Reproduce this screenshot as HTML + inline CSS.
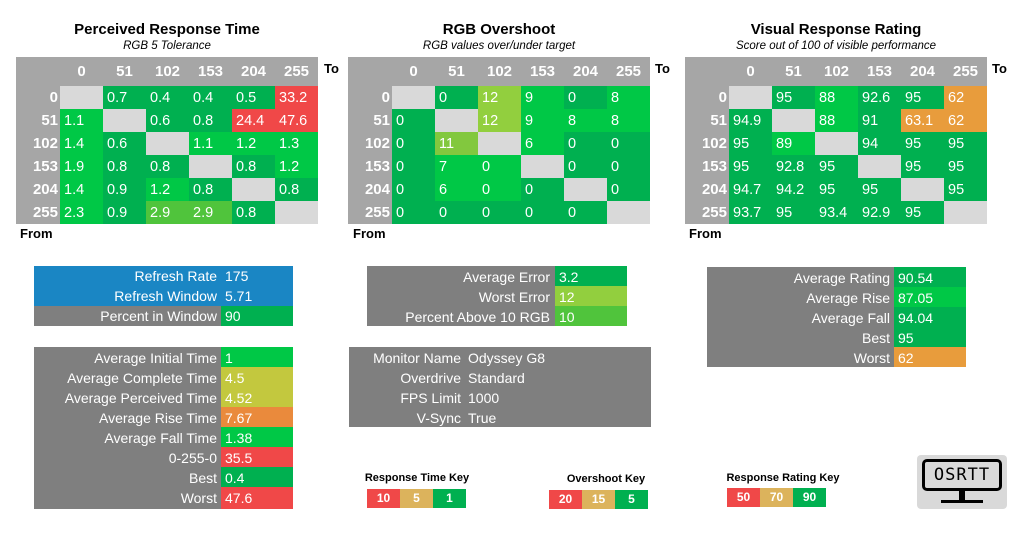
<!DOCTYPE html>
<html><head><meta charset="utf-8"><style>
body{margin:0;width:1024px;height:550px;background:#fff;position:relative;overflow:hidden;font-family:"Liberation Sans",Calibri,sans-serif}
.a{position:absolute}
table{border-collapse:collapse;position:absolute;table-layout:fixed}
td{padding:0;color:#fff;font-size:14.5px;height:23px;width:43px;white-space:nowrap;overflow:hidden}
td.h{background:#a6a6a6;font-weight:bold;text-align:center;font-size:15px;height:29px}
td.rh{background:#a6a6a6;font-weight:bold;text-align:right;padding-right:2px;width:42px;font-size:15px}
td.c{padding-left:4px;width:39px}
.g{background:#00b050}.b{background:#00c846}.r{background:#f04848}.o{background:#e89c3c}.y{background:#50c43c}.l{background:#92cf3e}.l2{background:#82c83e}.d{background:#d9d9d9}
.t{font-weight:bold;font-size:15px;text-align:center;width:300px}
.s{font-style:italic;font-size:11.5px;text-align:center;width:300px}
.lb{font-weight:bold;font-size:13px}
.box div{position:absolute;color:#fff;font-size:14px;line-height:20px;height:20px}
.k{position:absolute;font-size:11px;font-weight:bold;text-align:center}
.kb div{float:left;width:33px;height:19px;color:#fff;font-size:12px;font-weight:bold;line-height:19px;text-align:center}
</style></head><body>

<div class="a t" style="left:17px;top:21px">Perceived Response Time</div>
<div class="a s" style="left:17px;top:40px">RGB 5 Tolerance</div>
<div class="a t" style="left:349px;top:21px">RGB Overshoot</div>
<div class="a s" style="left:349px;top:40px">RGB values over/under target</div>
<div class="a t" style="left:686px;top:21px">Visual Response Rating</div>
<div class="a s" style="left:686px;top:40px">Score out of 100 of visible performance</div>

<div class="a lb" style="left:324px;top:61px">To</div>
<div class="a lb" style="left:20px;top:226px">From</div>
<div class="a lb" style="left:655px;top:61px">To</div>
<div class="a lb" style="left:353px;top:226px">From</div>
<div class="a lb" style="left:992px;top:61px">To</div>
<div class="a lb" style="left:689px;top:226px">From</div>

<table style="left:16px;top:57px">
<tr><td class="h" style="width:44px"></td><td class="h">0</td><td class="h">51</td><td class="h">102</td><td class="h">153</td><td class="h">204</td><td class="h">255</td></tr>
<tr><td class="rh">0</td><td class="c d"></td><td class="c g">0.7</td><td class="c g">0.4</td><td class="c g">0.4</td><td class="c g">0.5</td><td class="c r">33.2</td></tr>
<tr><td class="rh">51</td><td class="c b">1.1</td><td class="c d"></td><td class="c g">0.6</td><td class="c g">0.8</td><td class="c r">24.4</td><td class="c r">47.6</td></tr>
<tr><td class="rh">102</td><td class="c b">1.4</td><td class="c g">0.6</td><td class="c d"></td><td class="c b">1.1</td><td class="c b">1.2</td><td class="c b">1.3</td></tr>
<tr><td class="rh">153</td><td class="c b">1.9</td><td class="c g">0.8</td><td class="c g">0.8</td><td class="c d"></td><td class="c g">0.8</td><td class="c b">1.2</td></tr>
<tr><td class="rh">204</td><td class="c b">1.4</td><td class="c g">0.9</td><td class="c b">1.2</td><td class="c g">0.8</td><td class="c d"></td><td class="c g">0.8</td></tr>
<tr><td class="rh">255</td><td class="c b">2.3</td><td class="c g">0.9</td><td class="c y">2.9</td><td class="c y">2.9</td><td class="c g">0.8</td><td class="c d"></td></tr>
</table>

<table style="left:348px;top:57px">
<tr><td class="h" style="width:44px"></td><td class="h">0</td><td class="h">51</td><td class="h">102</td><td class="h">153</td><td class="h">204</td><td class="h">255</td></tr>
<tr><td class="rh">0</td><td class="c d"></td><td class="c g">0</td><td class="c l">12</td><td class="c b">9</td><td class="c g">0</td><td class="c b">8</td></tr>
<tr><td class="rh">51</td><td class="c g">0</td><td class="c d"></td><td class="c l">12</td><td class="c b">9</td><td class="c b">8</td><td class="c b">8</td></tr>
<tr><td class="rh">102</td><td class="c g">0</td><td class="c l2">11</td><td class="c d"></td><td class="c b">6</td><td class="c g">0</td><td class="c g">0</td></tr>
<tr><td class="rh">153</td><td class="c g">0</td><td class="c b">7</td><td class="c b">0</td><td class="c d"></td><td class="c g">0</td><td class="c g">0</td></tr>
<tr><td class="rh">204</td><td class="c g">0</td><td class="c b">6</td><td class="c b">0</td><td class="c g">0</td><td class="c d"></td><td class="c g">0</td></tr>
<tr><td class="rh">255</td><td class="c g">0</td><td class="c g">0</td><td class="c g">0</td><td class="c g">0</td><td class="c g">0</td><td class="c d"></td></tr>
</table>

<table style="left:685px;top:57px">
<tr><td class="h" style="width:44px"></td><td class="h">0</td><td class="h">51</td><td class="h">102</td><td class="h">153</td><td class="h">204</td><td class="h">255</td></tr>
<tr><td class="rh">0</td><td class="c d"></td><td class="c g">95</td><td class="c b">88</td><td class="c g">92.6</td><td class="c g">95</td><td class="c o">62</td></tr>
<tr><td class="rh">51</td><td class="c g">94.9</td><td class="c d"></td><td class="c b">88</td><td class="c g">91</td><td class="c o">63.1</td><td class="c o">62</td></tr>
<tr><td class="rh">102</td><td class="c g">95</td><td class="c b">89</td><td class="c d"></td><td class="c g">94</td><td class="c g">95</td><td class="c g">95</td></tr>
<tr><td class="rh">153</td><td class="c g">95</td><td class="c g">92.8</td><td class="c g">95</td><td class="c d"></td><td class="c g">95</td><td class="c g">95</td></tr>
<tr><td class="rh">204</td><td class="c g">94.7</td><td class="c g">94.2</td><td class="c g">95</td><td class="c g">95</td><td class="c d"></td><td class="c g">95</td></tr>
<tr><td class="rh">255</td><td class="c g">93.7</td><td class="c g">95</td><td class="c g">93.4</td><td class="c g">92.9</td><td class="c g">95</td><td class="c d"></td></tr>
</table>

<div class="a box" style="left:34px;top:266px;width:259px;height:60px;background:#7f7f7f">
<div style="left:0;top:0;width:259px;height:40px;background:#1a86c4"></div>
<div style="left:187px;top:40px;width:72px;background:#00b050"></div>
<div style="right:76px;top:0;text-align:right">Refresh Rate</div><div style="left:191px;top:0">175</div>
<div style="right:76px;top:20px;text-align:right">Refresh Window</div><div style="left:191px;top:20px">5.71</div>
<div style="right:76px;top:40px;text-align:right">Percent in Window</div><div style="left:191px;top:40px">90</div>
</div>

<div class="a box" style="left:34px;top:347px;width:259px;height:162px;background:#7f7f7f">
<div style="left:187px;top:0;width:72px;background:#00c846"></div>
<div style="left:187px;top:20px;width:72px;height:40px;background:#c3c83e"></div>
<div style="left:187px;top:60px;width:72px;background:#ea8a3c"></div>
<div style="left:187px;top:80px;width:72px;background:#00c846"></div>
<div style="left:187px;top:100px;width:72px;background:#f04848"></div>
<div style="left:187px;top:120px;width:72px;background:#00b050"></div>
<div style="left:187px;top:140px;width:72px;height:22px;background:#f04848"></div>
<div style="right:76px;top:1px;text-align:right">Average Initial Time</div><div style="left:191px;top:1px">1</div>
<div style="right:76px;top:21px;text-align:right">Average Complete Time</div><div style="left:191px;top:21px">4.5</div>
<div style="right:76px;top:41px;text-align:right">Average Perceived Time</div><div style="left:191px;top:41px">4.52</div>
<div style="right:76px;top:61px;text-align:right">Average Rise Time</div><div style="left:191px;top:61px">7.67</div>
<div style="right:76px;top:81px;text-align:right">Average Fall Time</div><div style="left:191px;top:81px">1.38</div>
<div style="right:76px;top:101px;text-align:right">0-255-0</div><div style="left:191px;top:101px">35.5</div>
<div style="right:76px;top:121px;text-align:right">Best</div><div style="left:191px;top:121px">0.4</div>
<div style="right:76px;top:141px;text-align:right">Worst</div><div style="left:191px;top:141px">47.6</div>
</div>

<div class="a box" style="left:367px;top:266px;width:260px;height:60px;background:#7f7f7f">
<div style="left:188px;top:0;width:72px;background:#00b050"></div>
<div style="left:188px;top:20px;width:72px;background:#92cf3e"></div>
<div style="left:188px;top:40px;width:72px;background:#50c43c"></div>
<div style="right:77px;top:1px;text-align:right">Average Error</div><div style="left:192px;top:1px">3.2</div>
<div style="right:77px;top:21px;text-align:right">Worst Error</div><div style="left:192px;top:21px">12</div>
<div style="right:77px;top:41px;text-align:right">Percent Above 10 RGB</div><div style="left:192px;top:41px">10</div>
</div>

<div class="a box" style="left:349px;top:347px;width:302px;height:80px;background:#7f7f7f">
<div style="right:190px;top:1px;text-align:right">Monitor Name</div><div style="left:119px;top:1px">Odyssey G8</div>
<div style="right:190px;top:21px;text-align:right">Overdrive</div><div style="left:119px;top:21px">Standard</div>
<div style="right:190px;top:41px;text-align:right">FPS Limit</div><div style="left:119px;top:41px">1000</div>
<div style="right:190px;top:61px;text-align:right">V-Sync</div><div style="left:119px;top:61px">True</div>
</div>

<div class="a box" style="left:707px;top:267px;width:259px;height:100px;background:#7f7f7f">
<div style="left:187px;top:0;width:72px;background:#00b050"></div>
<div style="left:187px;top:20px;width:72px;background:#00c846"></div>
<div style="left:187px;top:40px;width:72px;height:40px;background:#00b050"></div>
<div style="left:187px;top:80px;width:72px;background:#e89c3c"></div>
<div style="right:76px;top:1px;text-align:right">Average Rating</div><div style="left:191px;top:1px">90.54</div>
<div style="right:76px;top:21px;text-align:right">Average Rise</div><div style="left:191px;top:21px">87.05</div>
<div style="right:76px;top:41px;text-align:right">Average Fall</div><div style="left:191px;top:41px">94.04</div>
<div style="right:76px;top:61px;text-align:right">Best</div><div style="left:191px;top:61px">95</div>
<div style="right:76px;top:81px;text-align:right">Worst</div><div style="left:191px;top:81px">62</div>
</div>

<div class="k" style="left:347px;top:472px;width:140px">Response Time Key</div>
<div class="a kb" style="left:367px;top:489px;width:100px"><div style="background:#f04848">10</div><div style="background:#dcb35c">5</div><div style="background:#00b050">1</div></div>
<div class="k" style="left:536px;top:473px;width:140px">Overshoot Key</div>
<div class="a kb" style="left:549px;top:490px;width:100px"><div style="background:#f04848">20</div><div style="background:#dcb35c">15</div><div style="background:#00b050">5</div></div>
<div class="k" style="left:713px;top:472px;width:140px">Response Rating Key</div>
<div class="a kb" style="left:727px;top:488px;width:100px"><div style="background:#f04848">50</div><div style="background:#dcb35c">70</div><div style="background:#00b050">90</div></div>

<div class="a" style="left:917px;top:455px;width:90px;height:54px;background:#d9d9d9;border-radius:4px">
<div class="a" style="left:5px;top:4px;width:74px;height:26px;border:3px solid #000;border-radius:5px;font-size:17px;line-height:26px;text-align:center;letter-spacing:1px;color:#000;font-family:'DejaVu Sans Mono','Liberation Mono',monospace">OSRTT</div>
<div class="a" style="left:42px;top:36px;width:6px;height:10px;background:#000"></div>
<div class="a" style="left:24px;top:45px;width:42px;height:3px;background:#000"></div>
</div>
</body></html>
